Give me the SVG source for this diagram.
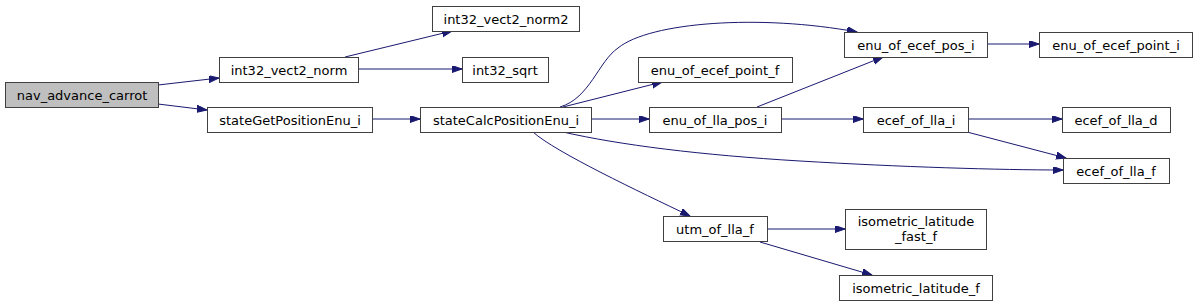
<svg xmlns="http://www.w3.org/2000/svg" width="1197" height="307" viewBox="0 0 1197 307">
<style>
.n rect{fill:#ffffff;stroke:#404040;stroke-width:1}
.n text{font-family:"DejaVu Sans",sans-serif;font-size:13px;fill:#000000;text-anchor:middle}
.e path{fill:none;stroke:#191970;stroke-width:1;marker-end:url(#a)}
</style>
<defs>
<marker id="a" markerUnits="userSpaceOnUse" markerWidth="11" markerHeight="8" refX="10" refY="3.5" orient="auto">
<path d="M0,0 L10,3.5 L0,7 z" fill="#191970" stroke="#191970" stroke-width="1"/>
</marker>
</defs>
<rect width="1197" height="307" fill="#ffffff"/>
<g id="edges" class="e">
<path d="M158,85 L219,78"/>
<path d="M158,104 L207,110"/>
<path d="M345,57 L452,31"/>
<path d="M358,69 L462,69"/>
<path d="M372,119 L420,119"/>
<path d="M560,107 C590,98 598,62 618,48 C650,22 760,14 857,32"/>
<path d="M563,107 L662,82"/>
<path d="M591,119 L649,119"/>
<path d="M563,132 C620,145 700,155 800,161 C900,167 1000,170 1063,170"/>
<path d="M533,132 C555,152 640,192 690,216"/>
<path d="M757,107 L883,57"/>
<path d="M781,119 L863,119"/>
<path d="M987,44 L1039,44"/>
<path d="M968,119 L1062,119"/>
<path d="M967,132 L1066,158"/>
<path d="M767,229 L845,229"/>
<path d="M760,242 L872,275"/>
</g>
<g id="nav_advance_carrot" class="n"><rect x="5.5" y="82.5" width="153" height="25" style="fill:#bfbfbf"/><text x="82" y="99.5">nav_advance_carrot</text></g>
<g id="int32_vect2_norm" class="n"><rect x="219.5" y="57.5" width="139" height="25"/><text x="289" y="74.5">int32_vect2_norm</text></g>
<g id="stateGetPositionEnu_i" class="n"><rect x="207.5" y="107.5" width="165" height="25"/><text x="290" y="124.5">stateGetPositionEnu_i</text></g>
<g id="int32_vect2_norm2" class="n"><rect x="432.5" y="6.5" width="147" height="25"/><text x="506" y="23.5">int32_vect2_norm2</text></g>
<g id="int32_sqrt" class="n"><rect x="462.5" y="57.5" width="86" height="25"/><text x="505" y="74.5">int32_sqrt</text></g>
<g id="stateCalcPositionEnu_i" class="n"><rect x="420.5" y="107.5" width="171" height="25"/><text x="506" y="124.5">stateCalcPositionEnu_i</text></g>
<g id="enu_of_ecef_point_f" class="n"><rect x="638.5" y="57.5" width="154" height="25"/><text x="715" y="74.5">enu_of_ecef_point_f</text></g>
<g id="enu_of_lla_pos_i" class="n"><rect x="649.5" y="107.5" width="132" height="25"/><text x="715" y="124.5">enu_of_lla_pos_i</text></g>
<g id="utm_of_lla_f" class="n"><rect x="663.5" y="216.5" width="104" height="25"/><text x="715" y="233.5">utm_of_lla_f</text></g>
<g id="enu_of_ecef_pos_i" class="n"><rect x="844.5" y="32.5" width="143" height="25"/><text x="916" y="49.5">enu_of_ecef_pos_i</text></g>
<g id="ecef_of_lla_i" class="n"><rect x="863.5" y="107.5" width="105" height="25"/><text x="916" y="124.5">ecef_of_lla_i</text></g>
<g id="isometric_latitude_fast_f" class="n"><rect x="845.5" y="209.5" width="141" height="40"/><text x="916" y="226">isometric_latitude</text><text x="916" y="241">_fast_f</text></g>
<g id="isometric_latitude_f" class="n"><rect x="839.5" y="275.5" width="153" height="25"/><text x="916" y="292.5">isometric_latitude_f</text></g>
<g id="enu_of_ecef_point_i" class="n"><rect x="1039.5" y="32.5" width="153" height="25"/><text x="1116" y="49.5">enu_of_ecef_point_i</text></g>
<g id="ecef_of_lla_d" class="n"><rect x="1062.5" y="107.5" width="108" height="25"/><text x="1116" y="124.5">ecef_of_lla_d</text></g>
<g id="ecef_of_lla_f" class="n"><rect x="1063.5" y="158.5" width="106" height="25"/><text x="1116" y="175.5">ecef_of_lla_f</text></g>
</svg>
